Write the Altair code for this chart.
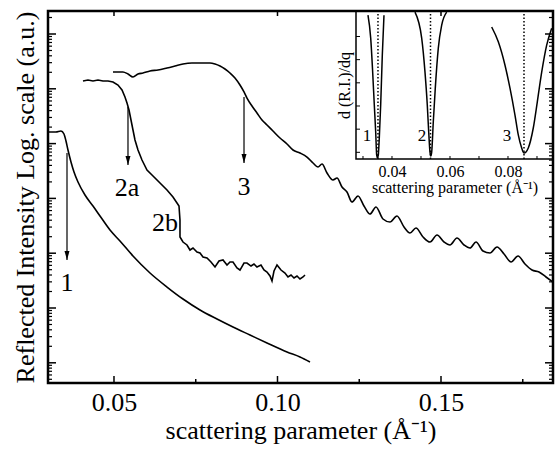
import altair as alt
import pandas as pd

FONT = "Liberation Serif"
W, H = 505, 372

# ---------------- main plot data ----------------
# x: scattering parameter (1/Å); y: log10 of reflected intensity (a.u.)
c1_q = [0.02982, 0.03226, 0.03379, 0.03471, 0.03532, 0.03593, 0.03685, 0.03777, 0.03899,
        0.04113, 0.04358, 0.04572, 0.04878, 0.05183, 0.05581, 0.06101, 0.06621, 0.07110,
        0.07630, 0.08150, 0.08639, 0.09159, 0.09679, 0.10291, 0.10688, 0.10994]
c1_log = [-1.788, -1.788, -1.770, -1.825, -1.953, -2.117, -2.336, -2.518, -2.701,
          -2.938, -3.139, -3.321, -3.577, -3.777, -4.051, -4.361, -4.617, -4.836,
          -5.036, -5.201, -5.347, -5.493, -5.639, -5.803, -5.894, -5.985]

c2_q = [0.04052, 0.04205, 0.04358, 0.04511, 0.04664, 0.04817, 0.04969, 0.05122, 0.05245,
        0.05336, 0.05398, 0.05459, 0.05520, 0.05581, 0.05642, 0.05734, 0.05856, 0.06009,
        0.06193, 0.06407, 0.06621, 0.06804, 0.06927, 0.06988, 0.07018, 0.07018, 0.07110,
        0.07232, 0.07324, 0.07416, 0.07538, 0.07630, 0.07722, 0.07844, 0.07966, 0.08089,
        0.08211, 0.08333, 0.08456, 0.08547, 0.08639, 0.08761, 0.08853, 0.08976, 0.09067,
        0.09190, 0.09281, 0.09373, 0.09495, 0.09587, 0.09679, 0.09771, 0.09832, 0.09893,
        0.09985, 0.10107, 0.10229, 0.10321, 0.10413, 0.10505, 0.10596, 0.10688, 0.10780,
        0.10841]
c2_log = [-0.858, -0.839, -0.858, -0.839, -0.858, -0.858, -0.876, -0.931, -1.022,
          -1.150, -1.259, -1.387, -1.569, -1.752, -1.934, -2.117, -2.299, -2.482,
          -2.591, -2.719, -2.847, -2.974, -3.084, -3.139, -3.394, -3.704, -3.796,
          -3.850, -3.942, -3.905, -3.978, -3.996, -4.069, -4.088, -4.161, -4.252,
          -4.142, -4.124, -4.215, -4.161, -4.161, -4.270, -4.307, -4.179, -4.179,
          -4.234, -4.197, -4.252, -4.215, -4.307, -4.343, -4.416, -4.507, -4.325,
          -4.215, -4.307, -4.361, -4.434, -4.398, -4.453, -4.416, -4.471, -4.434,
          -4.398]

c3_q = [0.04969, 0.05122, 0.05275, 0.05428, 0.05581, 0.05734, 0.05887, 0.06101, 0.06346,
        0.06621, 0.06865, 0.07110, 0.07385, 0.07630, 0.07936, 0.08089, 0.08242, 0.08394,
        0.08547, 0.08700, 0.08853, 0.08976, 0.09067, 0.09220, 0.09373, 0.09526, 0.09679,
        0.09862, 0.10076, 0.10291, 0.10474, 0.10688, 0.10902, 0.11086, 0.11239, 0.11361,
        0.11514, 0.11697, 0.11820, 0.11972, 0.12125, 0.12278, 0.12462, 0.12645, 0.12829,
        0.13012, 0.13226, 0.13440, 0.13654, 0.13869, 0.14052, 0.14235, 0.14450, 0.14664,
        0.14878, 0.15092, 0.15275, 0.15489, 0.15703, 0.15887, 0.16070, 0.16284, 0.16498,
        0.16713, 0.16927, 0.17141, 0.17355, 0.17569, 0.17783, 0.17997, 0.18211, 0.18425]
c3_log = [-0.693, -0.693, -0.693, -0.730, -0.785, -0.730, -0.712, -0.675, -0.657,
          -0.620, -0.584, -0.547, -0.529, -0.529, -0.529, -0.547, -0.584, -0.639,
          -0.712, -0.803, -0.931, -1.058, -1.168, -1.314, -1.442, -1.569, -1.661,
          -1.770, -1.898, -2.007, -2.117, -2.172, -2.245, -2.354, -2.427, -2.372,
          -2.536, -2.664, -2.628, -2.792, -2.883, -3.066, -2.956, -3.139, -3.285,
          -3.157, -3.376, -3.431, -3.321, -3.522, -3.631, -3.540, -3.704, -3.796,
          -3.668, -3.796, -3.850, -3.723, -3.850, -3.905, -3.796, -3.960, -3.996,
          -3.887, -4.015, -4.161, -4.051, -4.197, -4.307, -4.343, -4.434, -4.526]

arrow_q = [0.03563, 0.05428, 0.08976]
arrow_top_log = [-2.172, -1.332, -1.150]
arrow_tip_log = [-4.124, -2.391, -2.354]

label_text = ["1", "2a", "2b", "3"]
label_q = [0.03563, 0.05398, 0.06560, 0.08976]
label_log = [-4.544, -2.810, -3.449, -2.792]

x_major = [0.05, 0.10, 0.15]
x_minor = [0.075, 0.125, 0.175]
y_decades = [1e-6, 1e-5, 1e-4, 1e-3, 1e-2, 1e-1, 1e0]
y_minor_mult = [2, 3, 4, 5, 6, 7, 8, 9]

# ---------------- inset data ----------------
d1_q = [0.03172, 0.03266, 0.03334, 0.03390, 0.03438, 0.03472, 0.03500, 0.03528, 0.03562,
        0.03610, 0.03666, 0.03724]
d1_v = [5.82, 4.83, 3.36, 1.94, 0.78, -0.22, -0.34, -0.22, 0.52, 1.94, 4.09, 5.82]
d2_q = [0.04793, 0.05024, 0.05138, 0.05217, 0.05266, 0.05310, 0.05338, 0.05369, 0.05424,
        0.05493, 0.05597, 0.05714, 0.05886]
d2_v = [5.95, 4.83, 3.36, 1.94, 0.78, -0.09, -0.26, -0.09, 1.21, 2.67, 4.40, 5.39, 5.95]
d3_q = [0.07438, 0.07666, 0.07897, 0.08069, 0.08241, 0.08355, 0.08472, 0.08552, 0.08700,
        0.08872, 0.09010, 0.09162, 0.09334, 0.09507]
d3_v = [5.31, 4.67, 3.66, 2.67, 1.51, 0.65, 0.09, -0.13, 0.09, 0.95, 2.07, 3.36, 4.53, 5.26]
dip_q = [0.03517, 0.05328, 0.08552]
inset_label_text = ["1", "2", "3"]
inset_label_q = [0.03138, 0.05034, 0.07966]
inset_label_v = [0.6, 0.6, 0.6]
inset_x_ticks = [0.03, 0.04, 0.05, 0.06, 0.07, 0.08, 0.09]
inset_y_ticks = [-0.1, 0.9, 1.9, 2.9, 3.9, 4.9]

# ---------------- scales / axes ----------------
Y_LO, Y_HI = 10 ** -6.3686, 10 ** 0.4197
mx = alt.Scale(domain=[0.02982, 0.18425], nice=False, zero=False)
my = alt.Scale(type="log", domain=[Y_LO, Y_HI], nice=False)
x_ax = alt.Axis(orient="bottom", values=x_major, format=".2f", grid=False, ticks=False,
                tickSize=0, domain=False, labelFont=FONT, labelFontSize=26,
                labelColor="black", labelPadding=6,
                title="scattering parameter (Å⁻¹)", titleFont=FONT, titleFontSize=26,
                titleFontWeight="normal", titleColor="black", titlePadding=2)
y_ax = alt.Axis(orient="left", grid=False, ticks=False, tickSize=0, domain=False,
                labels=False, title="Reflected Intensity Log. scale (a.u.)",
                titleFont=FONT, titleFontSize=26, titleFontWeight="normal",
                titleColor="black", titlePadding=10)


def MX(f):
    return alt.X(f, type="quantitative", scale=mx, axis=x_ax)


def MY(f):
    return alt.Y(f, type="quantitative", scale=my, axis=y_ax)


def curve(q, logs):
    return pd.DataFrame({"q": q, "I": [10 ** v for v in logs], "i": list(range(len(q)))})


df1, df2, df3 = curve(c1_q, c1_log), curve(c2_q, c2_log), curve(c3_q, c3_log)
arr = pd.DataFrame({"q": arrow_q, "top": [10 ** v for v in arrow_top_log],
                    "tip": [10 ** v for v in arrow_tip_log]})
labs = pd.DataFrame({"q": label_q, "I": [10 ** v for v in label_log], "t": label_text})
xmaj = pd.DataFrame({"q": x_major})
xmin = pd.DataFrame({"q": x_minor})
ymaj = pd.DataFrame({"I": y_decades})
ymin = pd.DataFrame({"I": [k * d for d in [1e-7] + y_decades for k in y_minor_mult
                           if Y_LO <= k * d <= Y_HI]})

line_kw = dict(color="black", strokeWidth=1.6)
main = alt.layer(
    alt.Chart(df1).mark_line(interpolate="monotone", **line_kw).encode(
        x=MX("q"), y=MY("I"), order="i:Q"),
    alt.Chart(df2).mark_line(**line_kw).encode(x=MX("q"), y=MY("I"), order="i:Q"),
    alt.Chart(df3).mark_line(interpolate="monotone", **line_kw).encode(
        x=MX("q"), y=MY("I"), order="i:Q"),
    alt.Chart(arr).mark_rule(color="black", strokeWidth=1.2).encode(
        x=MX("q"), y=MY("top"), y2="tip"),
    alt.Chart(arr).mark_point(shape="M-0.5,-1.8L0,0L0.5,-1.8Z", filled=True, size=100,
                              color="black", opacity=1).encode(x=MX("q"), y=MY("tip")),
    alt.Chart(labs).mark_text(font=FONT, fontSize=26, color="black", baseline="middle",
                              align="center").encode(x=MX("q"), y=MY("I"), text="t:N"),
    # inward ticks: bottom / top
    alt.Chart(xmaj).mark_rule(color="black", strokeWidth=1.5).encode(
        x=MX("q"), y=alt.value(H), y2=alt.value(H - 7)),
    alt.Chart(xmin).mark_rule(color="black", strokeWidth=1.5).encode(
        x=MX("q"), y=alt.value(H), y2=alt.value(H - 4)),
    alt.Chart(xmaj).mark_rule(color="black", strokeWidth=1.5).encode(
        x=MX("q"), y=alt.value(0), y2=alt.value(5)),
    # inward ticks: left / right
    alt.Chart(ymaj).mark_rule(color="black", strokeWidth=1.5).encode(
        y=MY("I"), x=alt.value(0), x2=alt.value(8)),
    alt.Chart(ymin).mark_rule(color="black", strokeWidth=1.2).encode(
        y=MY("I"), x=alt.value(0), x2=alt.value(4)),
    alt.Chart(ymaj).mark_rule(color="black", strokeWidth=1.5).encode(
        y=MY("I"), x=alt.value(W), x2=alt.value(W - 8)),
    alt.Chart(ymin).mark_rule(color="black", strokeWidth=1.2).encode(
        y=MY("I"), x=alt.value(W), x2=alt.value(W - 4)),
)

# ---------------- inset ----------------
IX0, IX1, IY0, IY1 = 0.02759, 0.09552, -0.388, 6.0
ix = alt.Scale(domain=[IX0, IX1], range=[308, 505], nice=False, zero=False)
iy = alt.Scale(domain=[IY0, IY1], range=[148, 0], nice=False, zero=False)
ix_ax = alt.Axis(orient="bottom", offset=-224, values=[0.04, 0.06, 0.08], format=".2f",
                 grid=False, ticks=False, tickSize=0, domain=False, labelFont=FONT,
                 labelFontSize=16, labelColor="black", labelPadding=4,
                 title="scattering parameter (Å⁻¹)", titleFont=FONT, titleFontSize=16,
                 titleFontWeight="normal", titleColor="black", titlePadding=0)
iy_ax = alt.Axis(orient="left", offset=-308, grid=False, ticks=False, tickSize=0,
                 domain=False, labels=False, title="d (R.I.)/dq", titleFont=FONT,
                 titleFontSize=16, titleFontWeight="normal", titleColor="black",
                 titlePadding=4)


def IX(f):
    return alt.X(f, type="quantitative", scale=ix, axis=ix_ax)


def IY(f):
    return alt.Y(f, type="quantitative", scale=iy, axis=iy_ax)


frame = pd.DataFrame({"x0": [IX0], "x1": [IX1], "y0": [IY0], "y1": [IY1]})
dips = pd.concat([
    pd.DataFrame({"q": d1_q, "v": d1_v, "k": "1", "i": list(range(len(d1_q)))}),
    pd.DataFrame({"q": d2_q, "v": d2_v, "k": "2", "i": list(range(len(d2_q)))}),
    pd.DataFrame({"q": d3_q, "v": d3_v, "k": "3", "i": list(range(len(d3_q)))}),
])
dotted = pd.DataFrame({"q": dip_q, "y0": IY0, "y1": IY1})
ilabs = pd.DataFrame({"q": inset_label_q, "v": inset_label_v, "t": inset_label_text})
ixt = pd.DataFrame({"q": inset_x_ticks})
iyt = pd.DataFrame({"v": inset_y_ticks})

inset = alt.layer(
    alt.Chart(frame).mark_rect(fill="white", fillOpacity=0, stroke="black",
                               strokeWidth=1.5).encode(
        x=IX("x0"), x2="x1", y=IY("y0"), y2="y1"),
    alt.Chart(dotted).mark_rule(color="black", strokeWidth=1.5, strokeDash=[1.5, 2]).encode(
        x=IX("q"), y=IY("y0"), y2="y1"),
    alt.Chart(dips).mark_line(color="black", strokeWidth=1.5, interpolate="monotone").encode(
        x=IX("q"), y=IY("v"), detail="k:N", order="i:Q"),
    alt.Chart(ilabs).mark_text(font=FONT, fontSize=17, color="black").encode(
        x=IX("q"), y=IY("v"), text="t:N"),
    alt.Chart(ixt).mark_rule(color="black", strokeWidth=1).encode(
        x=IX("q"), y=alt.value(148), y2=alt.value(145)),
    alt.Chart(iyt).mark_rule(color="black", strokeWidth=1).encode(
        y=IY("v"), x=alt.value(308), x2=alt.value(312)),
)

chart = (
    alt.layer(main, inset)
    .resolve_scale(x="independent", y="independent")
    .properties(width=W, height=H,
                padding={"left": 48, "top": 11, "right": 3, "bottom": 68},
                autosize=alt.AutoSizeParams(type="none"),
                background="white")
    .configure_view(stroke="black", strokeWidth=2.5)
)

chart.save("out.html", embed_options={"renderer": "svg", "actions": False})
